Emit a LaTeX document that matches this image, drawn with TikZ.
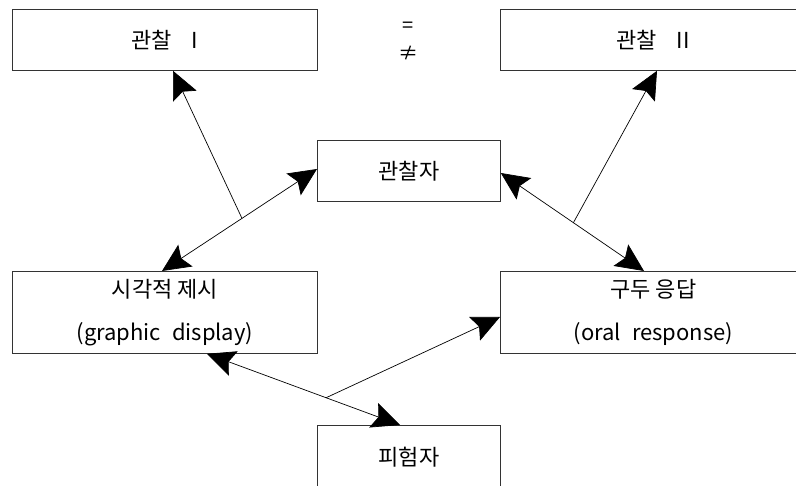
\documentclass[tikz,border=0pt]{standalone}
\usepackage{fontspec}
\setmainfont{Noto Sans CJK KR}
\usetikzlibrary{arrows.meta,calc}
\begin{document}
\begin{tikzpicture}[x=1pt,y=-1pt,
  box/.style={draw=black!80, line width=0.8pt, rectangle, inner sep=0pt,
    anchor=north west, align=center, font=\fontsize{22}{43}\selectfont},
  both/.style={line width=0.7pt, {Stealth[length=28pt,width=26pt,inset=5pt]}-{Stealth[length=28pt,width=26pt,inset=5pt]}},
  one/.style={line width=0.7pt, -{Stealth[length=28pt,width=26pt,inset=5pt]}},
  sym/.style={inner sep=0pt, font=\fontsize{20}{20}\selectfont}]
\useasboundingbox (0,0) rectangle (796,486);
\clip (0,0) rectangle (796,486);

% boxes
\node[box, minimum width=305pt, minimum height=61pt] (obsA) at (12,9) {관찰\hspace{0.9em}I};
\node[box, minimum width=305pt, minimum height=61pt] (obsB) at (500,9) {관찰\hspace{0.9em}II};
\node[box, minimum width=183pt, minimum height=61pt] (obsr) at (317,140) {관찰자};
\node[box, minimum width=305pt, minimum height=82pt] (vis) at (12,271) {시각적 제시\\(graphic\hspace{0.5em}display)};
\node[box, minimum width=306pt, minimum height=82pt] (resp) at (500,271) {구두 응답\\(oral\hspace{0.5em}response)};
\node[box, minimum width=183pt, minimum height=64pt] (subj) at (317,425) {피험자};

% relation symbols between the two observations
\node[sym] (eq) at (408,27) {=};
\node[sym] (neq) at (408,53) {≠};

% end points on the box edges
\coordinate (a1) at ($(vis.north west)+(150,0)$);
\coordinate (a2) at ($(obsr.north west)+(0,29)$);
\coordinate (b1) at ($(obsr.north east)+(0,33)$);
\coordinate (b2) at ($(resp.north west)+(144,0)$);
\coordinate (c1) at ($(vis.south west)+(195,0)$);
\coordinate (c2) at ($(subj.north west)+(83,0)$);
\coordinate (tA) at ($(obsA.south west)+(161,0)$);
\coordinate (tB) at ($(obsB.south west)+(157,0)$);
\coordinate (tR) at ($(resp.north west)+(0,46)$);

% two-way links
\draw[both] (a1) -- (a2);
\draw[both] (b1) -- (b2);
\draw[both] (c1) -- (c2);

% branches leaving the two-way links
\coordinate (jA) at ($(a1)!0.516!(a2)$);
\coordinate (jB) at ($(b1)!0.507!(b2)$);
\coordinate (jC) at ($(c1)!0.617!(c2)$);
\draw[one] (jA) -- (tA);
\draw[one] (jB) -- (tB);
\draw[one] (jC) -- (tR);
\end{tikzpicture}
\end{document}
